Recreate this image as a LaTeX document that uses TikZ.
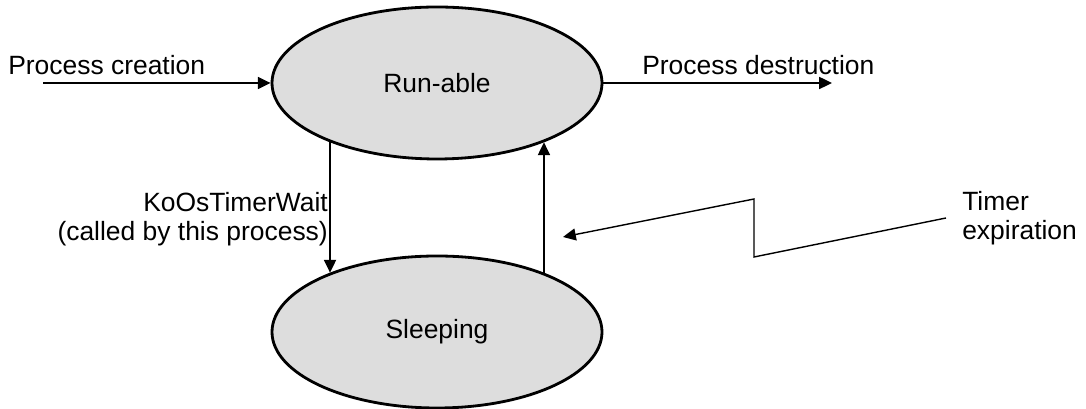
\documentclass[tikz,border=0pt]{standalone}
\usepackage{fontspec}
\setmainfont{Liberation Sans}
\usetikzlibrary{shapes,arrows.meta,positioning}
\definecolor{stategray}{RGB}{221,221,221}

\begin{document}
\begin{tikzpicture}[>={Triangle[length=0.32cm,width=0.3cm]},
    every node/.style={font=\fontsize{18.8}{20.5}\selectfont},
    state/.style={draw, ellipse, line width=2pt, fill=stategray, minimum width=8.25cm, minimum height=3.8cm},
    link/.style={->, line width=1.2pt}]
        \useasboundingbox (0,0) rectangle (27.15,10.225);

        \node[state] (run) at (10.925,8.15) {Run-able};
        \node[state] (sleep) at (10.925,1.925) {Sleeping};

        \coordinate (birth) at (1.075,8.15);
        \coordinate (death) at (20.8,8.15);
        \node[anchor=base west, inner sep=0] (creation) at (0.2,8.35) {Process creation};
        \node[anchor=base west, inner sep=0] (destruction) at (16.05,8.35) {Process destruction};
        \draw[link] (birth) -- (run.west);
        \draw[link] (run.east) -- (death);

        \draw[link] (run.-151) -- node[left, align=right, inner sep=1pt, yshift=-0.3cm] {KoOsTimerWait\\(called by this process)} (sleep.151);
        \draw[link] (sleep.29) -- (run.-29);

        \coordinate (tstart) at (23.65,4.775);
        \coordinate (wake) at (14.075,4.3);
        \node[right=0.4cm of tstart, align=left, inner sep=0] (timer) {Timer\\expiration};
        \draw[->, line width=1pt] (tstart) -- (18.85,3.8) -- (18.85,5.25) -- (wake);
    \end{tikzpicture}
\end{document}
